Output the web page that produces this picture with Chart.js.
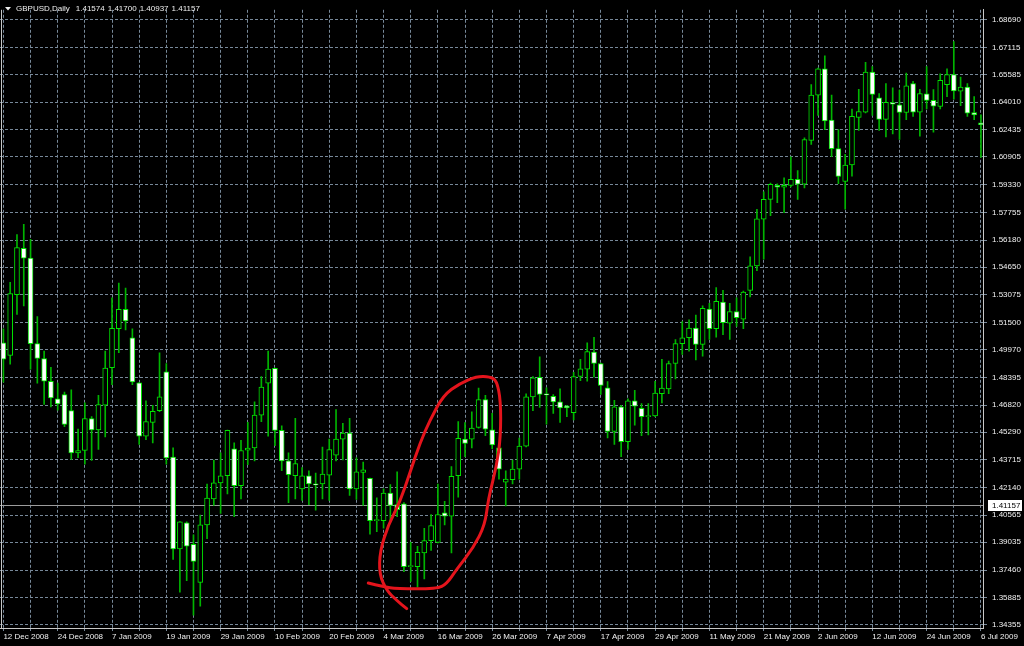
<!DOCTYPE html>
<html>
<head>
<meta charset="utf-8">
<title>GBPUSD Daily</title>
<script src="https://cdn.jsdelivr.net/npm/chart.js@4.4.1/dist/chart.umd.min.js"></script>
<style>
  html, body { margin: 0; padding: 0; background: #000; }
  #wrap { width: 1024px; height: 646px; }
</style>
</head>
<body>
<div id="wrap"><canvas id="chart" width="1024" height="646"></canvas></div>
<script>
// header / current price
const symbolName = 'GBPUSD,Daily';
const headerValues = [1.41574, 1.41700, 1.40937, 1.41157];
const bidPrice = 1.41157;

// one label every 8 bars, grid every 4 bars
const dateLabels = ['12 Dec 2008', '24 Dec 2008', '7 Jan 2009', '19 Jan 2009', '29 Jan 2009',
  '10 Feb 2009', '20 Feb 2009', '4 Mar 2009', '16 Mar 2009', '26 Mar 2009', '7 Apr 2009',
  '17 Apr 2009', '29 Apr 2009', '11 May 2009', '21 May 2009', '2 Jun 2009', '12 Jun 2009',
  '24 Jun 2009', '6 Jul 2009'];

const priceTicks = [1.68690, 1.67115, 1.65585, 1.64010, 1.62435, 1.60905, 1.59330, 1.57755,
  1.56180, 1.54650, 1.53075, 1.51500, 1.49970, 1.48395, 1.46820, 1.45290, 1.43715, 1.42140,
  1.40565, 1.39035, 1.37460, 1.35885, 1.34355];

// daily candles
const opens = [
  1.5035, 1.4964, 1.5309, 1.5571, 1.5516, 1.5031, 1.4946, 1.4817, 1.4718, 1.4742,
  1.4651, 1.4410, 1.4424, 1.4605, 1.4541, 1.4681, 1.4894, 1.5115, 1.5225, 1.5063,
  1.4808, 1.4505, 1.4584, 1.4650, 1.4871, 1.4387, 1.3865, 1.4013, 1.3892, 1.3676,
  1.4002, 1.4150, 1.4240, 1.4281, 1.4434, 1.4225, 1.4426, 1.4439, 1.4625, 1.4806,
  1.4890, 1.4538, 1.4365, 1.4281, 1.4206, 1.4281, 1.4234, 1.4234, 1.4284, 1.4398,
  1.4489, 1.4523, 1.4206, 1.4300, 1.4266, 1.4026, 1.4026, 1.4182, 1.4117, 1.4122,
  1.3765, 1.3765, 1.3843, 1.3913, 1.3903, 1.4070, 1.4052, 1.4281, 1.4489, 1.4489,
  1.4555, 1.4713, 1.4541, 1.4439, 1.4244, 1.4259, 1.4318, 1.4449, 1.4728, 1.4840,
  1.4742, 1.4731, 1.4700, 1.4678, 1.4639, 1.4845, 1.4886, 1.4983, 1.4918, 1.4780,
  1.4533, 1.4672, 1.4474, 1.4706, 1.4663, 1.4616, 1.4620, 1.4746, 1.4774, 1.4918,
  1.5031, 1.5065, 1.5119, 1.5026, 1.5227, 1.5115, 1.5267, 1.5147, 1.5212, 1.5169,
  1.5333, 1.5472, 1.5737, 1.5849, 1.5929, 1.5918, 1.5929, 1.5963, 1.5935, 1.6184,
  1.6441, 1.6590, 1.6299, 1.6137, 1.5951, 1.6044, 1.6314, 1.6344, 1.6571, 1.6426,
  1.6303, 1.6398, 1.6385, 1.6342, 1.6506, 1.6344, 1.6448, 1.6411, 1.6376, 1.6500,
  1.6558, 1.6463, 1.6487, 1.6342, 1.6283
];
const highs = [
  1.5115, 1.5379, 1.5650, 1.5707, 1.5622, 1.5184, 1.4988, 1.4896, 1.4806, 1.4756,
  1.4769, 1.4545, 1.4694, 1.4616, 1.4737, 1.4988, 1.5290, 1.5374, 1.5346, 1.5115,
  1.4810, 1.4706, 1.4681, 1.4979, 1.4918, 1.4439, 1.4021, 1.4020, 1.3946, 1.4058,
  1.4234, 1.4370, 1.4411, 1.4540, 1.4467, 1.4482, 1.4584, 1.4700, 1.4843, 1.4988,
  1.4892, 1.4564, 1.4411, 1.4607, 1.4327, 1.4309, 1.4296, 1.4443, 1.4489, 1.4657,
  1.4579, 1.4607, 1.4383, 1.4359, 1.4268, 1.4156, 1.4206, 1.4231, 1.4303, 1.4128,
  1.3903, 1.3881, 1.3983, 1.4061, 1.4234, 1.4136, 1.4333, 1.4588, 1.4583, 1.4644,
  1.4778, 1.4737, 1.4635, 1.4449, 1.4309, 1.4370, 1.4495, 1.4746, 1.4843, 1.4955,
  1.4780, 1.4742, 1.4774, 1.4681, 1.4868, 1.4942, 1.5035, 1.5067, 1.4920, 1.4815,
  1.4709, 1.4681, 1.4718, 1.4765, 1.4691, 1.4691, 1.4817, 1.4942, 1.4932, 1.5054,
  1.5156, 1.5165, 1.5193, 1.5245, 1.5259, 1.5348, 1.5333, 1.5259, 1.5290, 1.5329,
  1.5523, 1.5793, 1.5892, 1.5942, 1.5938, 1.5971, 1.6091, 1.6013, 1.6199, 1.6500,
  1.6594, 1.6664, 1.6441, 1.6245, 1.6105, 1.6361, 1.6474, 1.6627, 1.6603, 1.6450,
  1.6506, 1.6482, 1.6469, 1.6566, 1.6519, 1.6474, 1.6603, 1.6472, 1.6562, 1.6590,
  1.6745, 1.6543, 1.6506, 1.6432, 1.6329
];
const lows = [
  1.4812, 1.4914, 1.5197, 1.5244, 1.4886, 1.4806, 1.4685, 1.4672, 1.4653, 1.4560,
  1.4374, 1.4383, 1.4346, 1.4368, 1.4430, 1.4501, 1.4798, 1.4979, 1.5109, 1.4798,
  1.4458, 1.4486, 1.4467, 1.4644, 1.4346, 1.3806, 1.3620, 1.3685, 1.3490, 1.3541,
  1.3924, 1.4113, 1.4067, 1.4178, 1.4048, 1.4150, 1.4344, 1.4365, 1.4588, 1.4505,
  1.4452, 1.4309, 1.4128, 1.4150, 1.4141, 1.4117, 1.4086, 1.4150, 1.4141, 1.4365,
  1.4370, 1.4169, 1.4147, 1.4113, 1.3949, 1.3964, 1.3983, 1.4020, 1.4048, 1.3737,
  1.3681, 1.3648, 1.3695, 1.3857, 1.3900, 1.4002, 1.3843, 1.4160, 1.4389, 1.4439,
  1.4551, 1.4508, 1.4434, 1.4262, 1.4110, 1.4234, 1.4262, 1.4445, 1.4650, 1.4668,
  1.4573, 1.4635, 1.4583, 1.4616, 1.4597, 1.4821, 1.4817, 1.4840, 1.4742, 1.4495,
  1.4458, 1.4389, 1.4430, 1.4568, 1.4508, 1.4513, 1.4616, 1.4694, 1.4746, 1.4830,
  1.4970, 1.4988, 1.4938, 1.4960, 1.5054, 1.5067, 1.5082, 1.5054, 1.5128, 1.5115,
  1.5296, 1.5445, 1.5510, 1.5756, 1.5830, 1.5774, 1.5920, 1.5849, 1.5914, 1.6161,
  1.6326, 1.6245, 1.6091, 1.5938, 1.5793, 1.5981, 1.6240, 1.6340, 1.6326, 1.6240,
  1.6204, 1.6221, 1.6189, 1.6301, 1.6320, 1.6208, 1.6362, 1.6231, 1.6362, 1.6432,
  1.6418, 1.6381, 1.6320, 1.6301, 1.6087
];
const closes = [
  1.4942, 1.5314, 1.5575, 1.5516, 1.5031, 1.4946, 1.4817, 1.4722, 1.4689, 1.4572,
  1.4411, 1.4424, 1.4605, 1.4541, 1.4685, 1.4892, 1.5117, 1.5225, 1.5160, 1.4813,
  1.4505, 1.4588, 1.4647, 1.4728, 1.4382, 1.3865, 1.4019, 1.3881, 1.3795, 1.4002,
  1.4154, 1.4240, 1.4281, 1.4538, 1.4225, 1.4424, 1.4438, 1.4625, 1.4784, 1.4886,
  1.4538, 1.4365, 1.4287, 1.4350, 1.4281, 1.4234, 1.4229, 1.4290, 1.4430, 1.4489,
  1.4523, 1.4206, 1.4303, 1.4314, 1.4026, 1.4027, 1.4182, 1.4113, 1.4089, 1.3765,
  1.3769, 1.3847, 1.3913, 1.3998, 1.4061, 1.4052, 1.4277, 1.4493, 1.4464, 1.4551,
  1.4713, 1.4545, 1.4456, 1.4318, 1.4262, 1.4318, 1.4449, 1.4728, 1.4836, 1.4742,
  1.4740, 1.4700, 1.4666, 1.4666, 1.4843, 1.4888, 1.4985, 1.4918, 1.4793, 1.4533,
  1.4672, 1.4474, 1.4706, 1.4675, 1.4616, 1.4622, 1.4750, 1.4778, 1.4918, 1.5031,
  1.5063, 1.5119, 1.5026, 1.5231, 1.5115, 1.5271, 1.5150, 1.5212, 1.5178, 1.5323,
  1.5472, 1.5739, 1.5849, 1.5934, 1.5918, 1.5929, 1.5963, 1.5935, 1.6189, 1.6441,
  1.6590, 1.6295, 1.6137, 1.5979, 1.6044, 1.6320, 1.6348, 1.6571, 1.6445, 1.6303,
  1.6400, 1.6389, 1.6342, 1.6493, 1.6344, 1.6450, 1.6411, 1.6378, 1.6524, 1.6558,
  1.6465, 1.6487, 1.6338, 1.6329, 1.6273
];

// hand-drawn red loop, as [bar index, price]
const circlePath = [
  [53.75, 1.3672], [55.96, 1.3651], [57.93, 1.3639], [63.83, 1.3639], [65.30, 1.3667],
  [66.77, 1.3750], [69.22, 1.3871], [70.94, 1.4002], [71.43, 1.4150], [72.66, 1.4337],
  [73.25, 1.4504], [73.25, 1.4709], [72.66, 1.4821], [71.68, 1.4843], [69.72, 1.4845],
  [67.26, 1.4806], [64.80, 1.4737], [62.84, 1.4597], [61.37, 1.4467], [59.89, 1.4299],
  [58.42, 1.4132], [56.70, 1.4002], [55.47, 1.3853], [55.37, 1.3722], [56.46, 1.3629],
  [57.93, 1.3573], [59.41, 1.3527]
];

const FONT = "'Liberation Sans', Arial, sans-serif";
const GRID = '#778899';
const FRAME = '#c8c8c8';
const TEXT = '#f0f0f0';
const CANDLE_EDGE = '#00e400';
const WICK = '#00b400';

const tickIndices = dateLabels.flatMap((_, k) => k < dateLabels.length - 1 ? [k * 8, k * 8 + 4] : [k * 8]);

const wickData = lows.map((lo, i) => ({ x: i, y: [lo, highs[i]] }));
const bodyData = opens.map((o, i) => ({ x: i, y: [o, closes[i]] }));

const chartDecor = {
  id: 'chartDecor',
  beforeDraw(chart) {
    const { ctx, width, height } = chart;
    ctx.save();
    ctx.fillStyle = '#000';
    ctx.fillRect(0, 0, width, height);
    ctx.restore();
  },
  beforeDatasetsDraw(chart) {
    // current bid line
    const { ctx, chartArea, scales } = chart;
    const y = Math.round(scales.y.getPixelForValue(bidPrice)) + 0.5;
    ctx.save();
    ctx.strokeStyle = '#9c9c9c';
    ctx.lineWidth = 1;
    ctx.beginPath();
    ctx.moveTo(chartArea.left, y);
    ctx.lineTo(chartArea.right, y);
    ctx.stroke();
    ctx.restore();
  },
  afterDraw(chart) {
    const { ctx, chartArea, scales, width } = chart;
    ctx.save();

    // left edge of the frame
    ctx.strokeStyle = FRAME;
    ctx.lineWidth = 1;
    ctx.beginPath();
    ctx.moveTo(chartArea.left + 1.5, chartArea.top);
    ctx.lineTo(chartArea.left + 1.5, chartArea.bottom);
    ctx.stroke();

    // header
    ctx.fillStyle = TEXT;
    ctx.beginPath();
    ctx.moveTo(5, 7);
    ctx.lineTo(11, 7);
    ctx.lineTo(8, 10.5);
    ctx.closePath();
    ctx.fill();
    ctx.font = '8px ' + FONT;
    ctx.textBaseline = 'middle';
    let hx = 16;
    ctx.fillText(symbolName, hx, 9);
    hx += ctx.measureText(symbolName).width + 6;
    headerValues.forEach(v => {
      const s = v.toFixed(5);
      ctx.fillText(s, hx, 9);
      hx += ctx.measureText(s).width + 3;
    });

    // bid price tag on the axis
    const yb = Math.round(scales.y.getPixelForValue(bidPrice));
    ctx.fillStyle = '#ffffff';
    ctx.fillRect(chartArea.right + 5, yb - 5, width - chartArea.right - 7, 11);
    ctx.fillStyle = '#000';
    ctx.fillText(bidPrice.toFixed(5), chartArea.right + 9, yb + 0.5);

    // red loop
    const pts = circlePath.map(([i, p]) => [scales.x.getPixelForValue(i), scales.y.getPixelForValue(p)]);
    ctx.strokeStyle = '#e4141c';
    ctx.lineWidth = 3;
    ctx.lineCap = 'round';
    ctx.lineJoin = 'round';
    ctx.beginPath();
    ctx.moveTo(pts[0][0], pts[0][1]);
    for (let k = 1; k < pts.length - 1; k++) {
      const mx = (pts[k][0] + pts[k + 1][0]) / 2;
      const my = (pts[k][1] + pts[k + 1][1]) / 2;
      ctx.quadraticCurveTo(pts[k][0], pts[k][1], mx, my);
    }
    ctx.lineTo(pts[pts.length - 1][0], pts[pts.length - 1][1]);
    ctx.stroke();

    ctx.restore();
  }
};

new Chart(document.getElementById('chart'), {
  type: 'bar',
  data: {
    datasets: [
      {
        label: 'Body',
        data: bodyData,
        order: 1,
        grouped: false,
        barThickness: 5,
        minBarLength: 1,
        borderWidth: 1,
        borderSkipped: false,
        borderColor: CANDLE_EDGE,
        backgroundColor: (ctx) => closes[ctx.dataIndex] >= opens[ctx.dataIndex] ? '#000000' : '#ffffff',
      },
      {
        label: 'Wick',
        data: wickData,
        order: 2,
        grouped: false,
        barThickness: 1,
        borderWidth: 0,
        backgroundColor: WICK,
      },
    ],
  },
  plugins: [chartDecor],
  options: {
    responsive: false,
    devicePixelRatio: 1,
    animation: false,
    layout: { padding: 0 },
    plugins: {
      legend: { display: false },
      tooltip: { enabled: false },
      title: { display: false },
    },
    scales: {
      x: {
        type: 'linear',
        offset: false,
        min: -0.5,
        max: 144.3,
        afterBuildTicks: (scale) => { scale.ticks = tickIndices.map(v => ({ value: v })); },
        afterFit: (scale) => { scale.height = 18; scale.paddingLeft = 0; scale.paddingRight = 0; },
        grid: {
          offset: false,
          color: GRID,
          lineWidth: 1,
          tickLength: 3,
          tickColor: GRID,
        },
        border: { display: true, color: FRAME, width: 1, dash: [3, 2] },
        ticks: {
          autoSkip: false,
          maxRotation: 0,
          align: 'start',
          padding: 1,
          color: TEXT,
          font: { family: FONT, size: 8 },
          callback: (value) => value % 8 === 0 ? dateLabels[value / 8] : '',
        },
      },
      y: {
        type: 'linear',
        position: 'right',
        min: 1.34169,
        max: 1.69249,
        afterBuildTicks: (scale) => { scale.ticks = priceTicks.map(v => ({ value: v })); },
        afterFit: (scale) => { scale.width = 41; },
        grid: {
          color: GRID,
          lineWidth: 1,
          tickLength: 4,
          tickColor: GRID,
        },
        border: { display: true, color: FRAME, width: 1, dash: [3, 2] },
        ticks: {
          padding: 5,
          color: TEXT,
          font: { family: FONT, size: 8 },
          callback: (value) => Number(value).toFixed(5),
        },
      },
    },
  },
});
</script>
</body>
</html>
